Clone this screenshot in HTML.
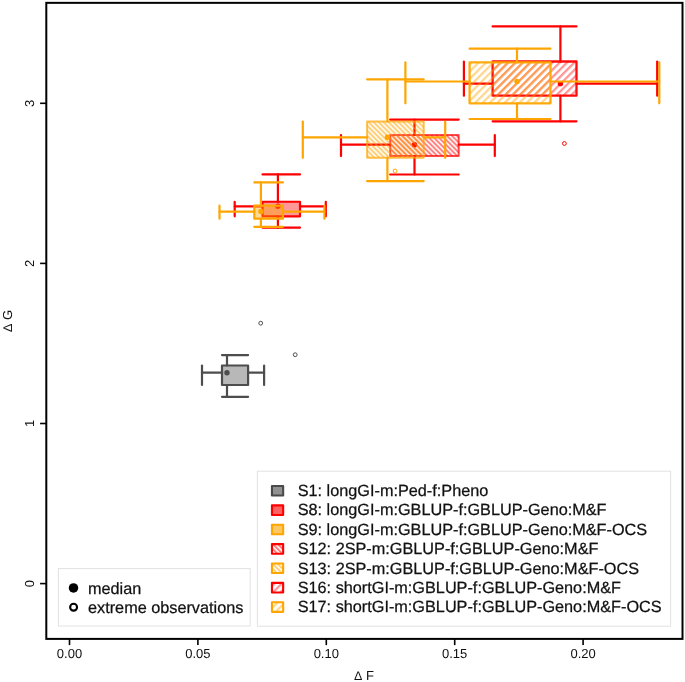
<!DOCTYPE html>
<html><head><meta charset="utf-8"><title>plot</title>
<style>
html,body{margin:0;padding:0;background:#fff;}
svg{display:block;will-change:transform;font-family:"Liberation Sans",sans-serif;text-rendering:geometricPrecision;}
</style></head><body>
<svg width="685" height="682" viewBox="0 0 685 682">
<rect x="0" y="0" width="685" height="682" fill="#fff"/>
<defs>
<pattern id="hbR" patternUnits="userSpaceOnUse" width="3.52" height="3.52" patternTransform="translate(1.2 0) rotate(-45)"><rect x="0" y="0" width="2.0" height="3.52" fill="#ff0000" fill-opacity="0.5"/></pattern>
<pattern id="hbO" patternUnits="userSpaceOnUse" width="3.52" height="3.52" patternTransform="translate(1.2 0) rotate(-45)"><rect x="0" y="0" width="2.0" height="3.52" fill="#ffa500" fill-opacity="0.52"/></pattern>
<pattern id="hfR" patternUnits="userSpaceOnUse" width="5.21" height="5.21" patternTransform="translate(1.75 0) rotate(45)"><rect x="0" y="0" width="2.2" height="5.21" fill="#ff0000" fill-opacity="0.42"/></pattern>
<pattern id="hfO" patternUnits="userSpaceOnUse" width="5.21" height="5.21" patternTransform="translate(1.75 0) rotate(45)"><rect x="0" y="0" width="2.2" height="5.21" fill="#ffa500" fill-opacity="0.45"/></pattern>
</defs>
<rect x="46.3" y="2.85" width="636.2" height="636.05" fill="none" stroke="#000" stroke-width="2"/>
<line x1="69.5" y1="638.9" x2="69.5" y2="645.1" stroke="#000" stroke-width="1.6"/>
<text x="69.5" y="658.2" font-size="13" text-anchor="middle" fill="#111">0.00</text>
<line x1="197.9" y1="638.9" x2="197.9" y2="645.1" stroke="#000" stroke-width="1.6"/>
<text x="197.9" y="658.2" font-size="13" text-anchor="middle" fill="#111">0.05</text>
<line x1="326.3" y1="638.9" x2="326.3" y2="645.1" stroke="#000" stroke-width="1.6"/>
<text x="326.3" y="658.2" font-size="13" text-anchor="middle" fill="#111">0.10</text>
<line x1="454.7" y1="638.9" x2="454.7" y2="645.1" stroke="#000" stroke-width="1.6"/>
<text x="454.7" y="658.2" font-size="13" text-anchor="middle" fill="#111">0.15</text>
<line x1="583.1" y1="638.9" x2="583.1" y2="645.1" stroke="#000" stroke-width="1.6"/>
<text x="583.1" y="658.2" font-size="13" text-anchor="middle" fill="#111">0.20</text>
<line x1="46.3" y1="583.6" x2="40.099999999999994" y2="583.6" stroke="#000" stroke-width="1.6"/>
<text transform="translate(33.5 583.6) rotate(-90)" font-size="13" text-anchor="middle" fill="#111">0</text>
<line x1="46.3" y1="423.5" x2="40.099999999999994" y2="423.5" stroke="#000" stroke-width="1.6"/>
<text transform="translate(33.5 423.5) rotate(-90)" font-size="13" text-anchor="middle" fill="#111">1</text>
<line x1="46.3" y1="263.4" x2="40.099999999999994" y2="263.4" stroke="#000" stroke-width="1.6"/>
<text transform="translate(33.5 263.4) rotate(-90)" font-size="13" text-anchor="middle" fill="#111">2</text>
<line x1="46.3" y1="103.3" x2="40.099999999999994" y2="103.3" stroke="#000" stroke-width="1.6"/>
<text transform="translate(33.5 103.3) rotate(-90)" font-size="13" text-anchor="middle" fill="#111">3</text>
<text x="364" y="679.7" font-size="13" text-anchor="middle" fill="#111"><tspan font-size="12.5">Δ</tspan> F</text>
<text transform="translate(12.1 321) rotate(-90)" font-size="13" text-anchor="middle" fill="#111"><tspan font-size="12.5">Δ</tspan> G</text>
<rect x="222.00" y="365.50" width="26.10" height="19.50" fill="#4d4d4d" fill-opacity="0.4" stroke="none"/>
<line x1="202.00" y1="372.70" x2="222.00" y2="372.70" stroke="#4d4d4d" stroke-width="2.2" stroke-linecap="round"/>
<line x1="248.10" y1="372.70" x2="264.10" y2="372.70" stroke="#4d4d4d" stroke-width="2.2" stroke-linecap="round"/>
<line x1="202.00" y1="365.50" x2="202.00" y2="385.00" stroke="#4d4d4d" stroke-width="2.2" stroke-linecap="round"/>
<line x1="264.10" y1="365.50" x2="264.10" y2="385.00" stroke="#4d4d4d" stroke-width="2.2" stroke-linecap="round"/>
<line x1="227.00" y1="355.10" x2="227.00" y2="365.50" stroke="#4d4d4d" stroke-width="2.2" stroke-linecap="round"/>
<line x1="227.00" y1="385.00" x2="227.00" y2="396.80" stroke="#4d4d4d" stroke-width="2.2" stroke-linecap="round"/>
<line x1="222.00" y1="355.10" x2="248.10" y2="355.10" stroke="#4d4d4d" stroke-width="2.2" stroke-linecap="round"/>
<line x1="222.00" y1="396.80" x2="248.10" y2="396.80" stroke="#4d4d4d" stroke-width="2.2" stroke-linecap="round"/>
<rect x="222.00" y="365.50" width="26.10" height="19.50" fill="none" stroke="#4d4d4d" stroke-opacity="1" stroke-width="2.2" stroke-linejoin="round"/>
<circle cx="227.00" cy="372.70" r="2.7" fill="#4d4d4d"/>
<circle cx="260.70" cy="323.20" r="1.9" fill="#fff" stroke="#4d4d4d" stroke-width="1.0"/>
<circle cx="295.20" cy="354.70" r="1.9" fill="#fff" stroke="#4d4d4d" stroke-width="1.0"/>
<rect x="262.50" y="201.75" width="37.50" height="14.55" fill="#ff0000" fill-opacity="0.4" stroke="none"/>
<line x1="234.70" y1="206.30" x2="262.50" y2="206.30" stroke="#ff0000" stroke-width="2.2" stroke-linecap="round"/>
<line x1="300.00" y1="206.30" x2="325.80" y2="206.30" stroke="#ff0000" stroke-width="2.2" stroke-linecap="round"/>
<line x1="234.70" y1="201.75" x2="234.70" y2="216.30" stroke="#ff0000" stroke-width="2.2" stroke-linecap="round"/>
<line x1="325.80" y1="201.75" x2="325.80" y2="216.30" stroke="#ff0000" stroke-width="2.2" stroke-linecap="round"/>
<line x1="277.90" y1="174.40" x2="277.90" y2="201.75" stroke="#ff0000" stroke-width="2.2" stroke-linecap="round"/>
<line x1="277.90" y1="216.30" x2="277.90" y2="227.60" stroke="#ff0000" stroke-width="2.2" stroke-linecap="round"/>
<line x1="262.50" y1="174.40" x2="300.00" y2="174.40" stroke="#ff0000" stroke-width="2.2" stroke-linecap="round"/>
<line x1="262.50" y1="227.60" x2="300.00" y2="227.60" stroke="#ff0000" stroke-width="2.2" stroke-linecap="round"/>
<rect x="262.50" y="201.75" width="37.50" height="14.55" fill="none" stroke="#ff0000" stroke-opacity="1" stroke-width="2.2" stroke-linejoin="round"/>
<circle cx="277.90" cy="206.30" r="2.7" fill="#ff0000"/>
<rect x="254.30" y="205.70" width="28.60" height="13.00" fill="#ffa500" fill-opacity="0.4" stroke="none"/>
<line x1="219.50" y1="211.55" x2="254.30" y2="211.55" stroke="#ffa500" stroke-width="2.2" stroke-linecap="round"/>
<line x1="282.90" y1="211.55" x2="324.40" y2="211.55" stroke="#ffa500" stroke-width="2.2" stroke-linecap="round"/>
<line x1="219.50" y1="205.70" x2="219.50" y2="218.70" stroke="#ffa500" stroke-width="2.2" stroke-linecap="round"/>
<line x1="324.40" y1="205.70" x2="324.40" y2="218.70" stroke="#ffa500" stroke-width="2.2" stroke-linecap="round"/>
<line x1="260.90" y1="182.40" x2="260.90" y2="205.70" stroke="#ffa500" stroke-width="2.2" stroke-linecap="round"/>
<line x1="260.90" y1="218.70" x2="260.90" y2="226.80" stroke="#ffa500" stroke-width="2.2" stroke-linecap="round"/>
<line x1="254.30" y1="182.40" x2="282.90" y2="182.40" stroke="#ffa500" stroke-width="2.2" stroke-linecap="round"/>
<line x1="254.30" y1="226.80" x2="282.90" y2="226.80" stroke="#ffa500" stroke-width="2.2" stroke-linecap="round"/>
<rect x="254.30" y="205.70" width="28.60" height="13.00" fill="none" stroke="#ffa500" stroke-opacity="1" stroke-width="2.2" stroke-linejoin="round"/>
<circle cx="260.90" cy="211.55" r="2.7" fill="#ffa500"/>
<circle cx="414.50" cy="144.70" r="2.7" fill="#ff0000"/>
<rect x="390.20" y="135.00" width="68.50" height="21.10" fill="url(#hbR)" stroke="none"/>
<line x1="341.00" y1="144.70" x2="390.20" y2="144.70" stroke="#ff0000" stroke-width="2.2" stroke-linecap="round"/>
<line x1="458.70" y1="144.70" x2="494.80" y2="144.70" stroke="#ff0000" stroke-width="2.2" stroke-linecap="round"/>
<line x1="341.00" y1="135.00" x2="341.00" y2="156.10" stroke="#ff0000" stroke-width="2.2" stroke-linecap="round"/>
<line x1="494.80" y1="135.00" x2="494.80" y2="156.10" stroke="#ff0000" stroke-width="2.2" stroke-linecap="round"/>
<line x1="414.50" y1="119.60" x2="414.50" y2="135.00" stroke="#ff0000" stroke-width="2.2" stroke-linecap="round"/>
<line x1="414.50" y1="156.10" x2="414.50" y2="174.50" stroke="#ff0000" stroke-width="2.2" stroke-linecap="round"/>
<line x1="390.20" y1="119.60" x2="458.70" y2="119.60" stroke="#ff0000" stroke-width="2.2" stroke-linecap="round"/>
<line x1="390.20" y1="174.50" x2="458.70" y2="174.50" stroke="#ff0000" stroke-width="2.2" stroke-linecap="round"/>
<rect x="390.20" y="135.00" width="68.50" height="21.10" fill="none" stroke="#ff0000" stroke-opacity="0.7" stroke-width="2.0" stroke-linejoin="round"/>
<circle cx="387.40" cy="137.30" r="2.7" fill="#ffa500"/>
<rect x="367.10" y="121.50" width="56.60" height="36.30" fill="url(#hbO)" stroke="none"/>
<line x1="302.80" y1="137.30" x2="367.10" y2="137.30" stroke="#ffa500" stroke-width="2.2" stroke-linecap="round"/>
<line x1="423.70" y1="137.30" x2="445.20" y2="137.30" stroke="#ffa500" stroke-width="2.2" stroke-linecap="round"/>
<line x1="302.80" y1="121.50" x2="302.80" y2="157.80" stroke="#ffa500" stroke-width="2.2" stroke-linecap="round"/>
<line x1="445.20" y1="121.50" x2="445.20" y2="157.80" stroke="#ffa500" stroke-width="2.2" stroke-linecap="round"/>
<line x1="387.40" y1="79.30" x2="387.40" y2="121.50" stroke="#ffa500" stroke-width="2.2" stroke-linecap="round"/>
<line x1="387.40" y1="157.80" x2="387.40" y2="181.10" stroke="#ffa500" stroke-width="2.2" stroke-linecap="round"/>
<line x1="367.10" y1="79.30" x2="423.70" y2="79.30" stroke="#ffa500" stroke-width="2.2" stroke-linecap="round"/>
<line x1="367.10" y1="181.10" x2="423.70" y2="181.10" stroke="#ffa500" stroke-width="2.2" stroke-linecap="round"/>
<rect x="367.10" y="121.50" width="56.60" height="36.30" fill="none" stroke="#ffa500" stroke-opacity="0.7" stroke-width="2.0" stroke-linejoin="round"/>
<circle cx="395.10" cy="171.00" r="1.9" fill="#fff" stroke="#ffa500" stroke-width="1.0"/>
<circle cx="560.40" cy="83.65" r="2.7" fill="#ff0000"/>
<rect x="492.60" y="61.50" width="83.90" height="34.20" fill="url(#hfR)" stroke="none"/>
<line x1="463.90" y1="83.65" x2="492.60" y2="83.65" stroke="#ff0000" stroke-width="2.2" stroke-linecap="round"/>
<line x1="576.50" y1="83.65" x2="657.20" y2="83.65" stroke="#ff0000" stroke-width="2.2" stroke-linecap="round"/>
<line x1="463.90" y1="61.50" x2="463.90" y2="95.70" stroke="#ff0000" stroke-width="2.2" stroke-linecap="round"/>
<line x1="657.20" y1="61.50" x2="657.20" y2="95.70" stroke="#ff0000" stroke-width="2.2" stroke-linecap="round"/>
<line x1="560.40" y1="26.40" x2="560.40" y2="61.50" stroke="#ff0000" stroke-width="2.2" stroke-linecap="round"/>
<line x1="560.40" y1="95.70" x2="560.40" y2="121.30" stroke="#ff0000" stroke-width="2.2" stroke-linecap="round"/>
<line x1="492.60" y1="26.40" x2="576.50" y2="26.40" stroke="#ff0000" stroke-width="2.2" stroke-linecap="round"/>
<line x1="492.60" y1="121.30" x2="576.50" y2="121.30" stroke="#ff0000" stroke-width="2.2" stroke-linecap="round"/>
<rect x="492.60" y="61.50" width="83.90" height="34.20" fill="none" stroke="#ff0000" stroke-opacity="0.95" stroke-width="2.3" stroke-linejoin="round"/>
<circle cx="564.40" cy="143.50" r="1.9" fill="#fff" stroke="#ff0000" stroke-width="1.0"/>
<circle cx="517.00" cy="81.50" r="2.7" fill="#ffa500"/>
<rect x="469.60" y="62.40" width="80.90" height="40.90" fill="url(#hfO)" stroke="none"/>
<line x1="405.40" y1="81.50" x2="469.60" y2="81.50" stroke="#ffa500" stroke-width="2.2" stroke-linecap="round"/>
<line x1="550.50" y1="81.50" x2="659.30" y2="81.50" stroke="#ffa500" stroke-width="2.2" stroke-linecap="round"/>
<line x1="405.40" y1="62.40" x2="405.40" y2="103.30" stroke="#ffa500" stroke-width="2.2" stroke-linecap="round"/>
<line x1="659.30" y1="62.40" x2="659.30" y2="103.30" stroke="#ffa500" stroke-width="2.2" stroke-linecap="round"/>
<line x1="517.00" y1="48.60" x2="517.00" y2="62.40" stroke="#ffa500" stroke-width="2.2" stroke-linecap="round"/>
<line x1="517.00" y1="103.30" x2="517.00" y2="119.00" stroke="#ffa500" stroke-width="2.2" stroke-linecap="round"/>
<line x1="469.60" y1="48.60" x2="550.50" y2="48.60" stroke="#ffa500" stroke-width="2.2" stroke-linecap="round"/>
<line x1="469.60" y1="119.00" x2="550.50" y2="119.00" stroke="#ffa500" stroke-width="2.2" stroke-linecap="round"/>
<rect x="469.60" y="62.40" width="80.90" height="40.90" fill="none" stroke="#ffa500" stroke-opacity="0.95" stroke-width="2.3" stroke-linejoin="round"/>
<rect x="58.4" y="568.6" width="191.8" height="57.4" fill="#fff" stroke="#e2e2e2" stroke-width="1"/>
<circle cx="73.5" cy="587.9" r="4.75" fill="#000"/>
<circle cx="73.6" cy="607.2" r="3.45" fill="#fff" stroke="#000" stroke-width="2.1"/>
<text x="88" y="593.8" font-size="16.25" fill="#111" stroke="#111" stroke-width="0.25">median</text>
<text x="88" y="613.1" font-size="16.25" fill="#111" stroke="#111" stroke-width="0.25">extreme observations</text>
<rect x="257.4" y="471.2" width="413.2" height="155" fill="#fff" stroke="#e2e2e2" stroke-width="1"/>
<rect x="271.95" y="485.95" width="11.20" height="9.60" fill="#4d4d4d" fill-opacity="0.62" stroke="#4a4a4a" stroke-width="2.1" stroke-linejoin="round"/>
<text x="297.7" y="496.10" font-size="16.25" fill="#111" stroke="#111" stroke-width="0.25">S1: longGI-m:Ped-f:Pheno</text>
<rect x="271.95" y="505.33" width="11.20" height="9.60" fill="#ff0000" fill-opacity="0.62" stroke="#ff0000" stroke-width="2.1" stroke-linejoin="round"/>
<text x="297.7" y="515.48" font-size="16.25" fill="#111" stroke="#111" stroke-width="0.25">S8: longGI-m:GBLUP-f:GBLUP-Geno:M&amp;F</text>
<rect x="271.95" y="524.71" width="11.20" height="9.60" fill="#ffa500" fill-opacity="0.62" stroke="#ffa500" stroke-width="2.1" stroke-linejoin="round"/>
<text x="297.7" y="534.86" font-size="16.25" fill="#111" stroke="#111" stroke-width="0.25">S9: longGI-m:GBLUP-f:GBLUP-Geno:M&amp;F-OCS</text>
<rect x="271.95" y="544.09" width="11.20" height="9.60" fill="url(#hbR)" stroke="#ff0000" stroke-width="2.1" stroke-linejoin="round"/>
<text x="297.7" y="554.24" font-size="16.25" fill="#111" stroke="#111" stroke-width="0.25">S12: 2SP-m:GBLUP-f:GBLUP-Geno:M&amp;F</text>
<rect x="271.95" y="563.47" width="11.20" height="9.60" fill="url(#hbO)" stroke="#ffa500" stroke-width="2.1" stroke-linejoin="round"/>
<text x="297.7" y="573.62" font-size="16.25" fill="#111" stroke="#111" stroke-width="0.25">S13: 2SP-m:GBLUP-f:GBLUP-Geno:M&amp;F-OCS</text>
<rect x="271.95" y="582.85" width="11.20" height="9.60" fill="url(#hfR)" stroke="#ff0000" stroke-width="2.1" stroke-linejoin="round"/>
<text x="297.7" y="593.00" font-size="16.25" fill="#111" stroke="#111" stroke-width="0.25">S16: shortGI-m:GBLUP-f:GBLUP-Geno:M&amp;F</text>
<rect x="271.95" y="602.23" width="11.20" height="9.60" fill="url(#hfO)" stroke="#ffa500" stroke-width="2.1" stroke-linejoin="round"/>
<text x="297.7" y="612.38" font-size="16.25" fill="#111" stroke="#111" stroke-width="0.25">S17: shortGI-m:GBLUP-f:GBLUP-Geno:M&amp;F-OCS</text>
</svg></body></html>
